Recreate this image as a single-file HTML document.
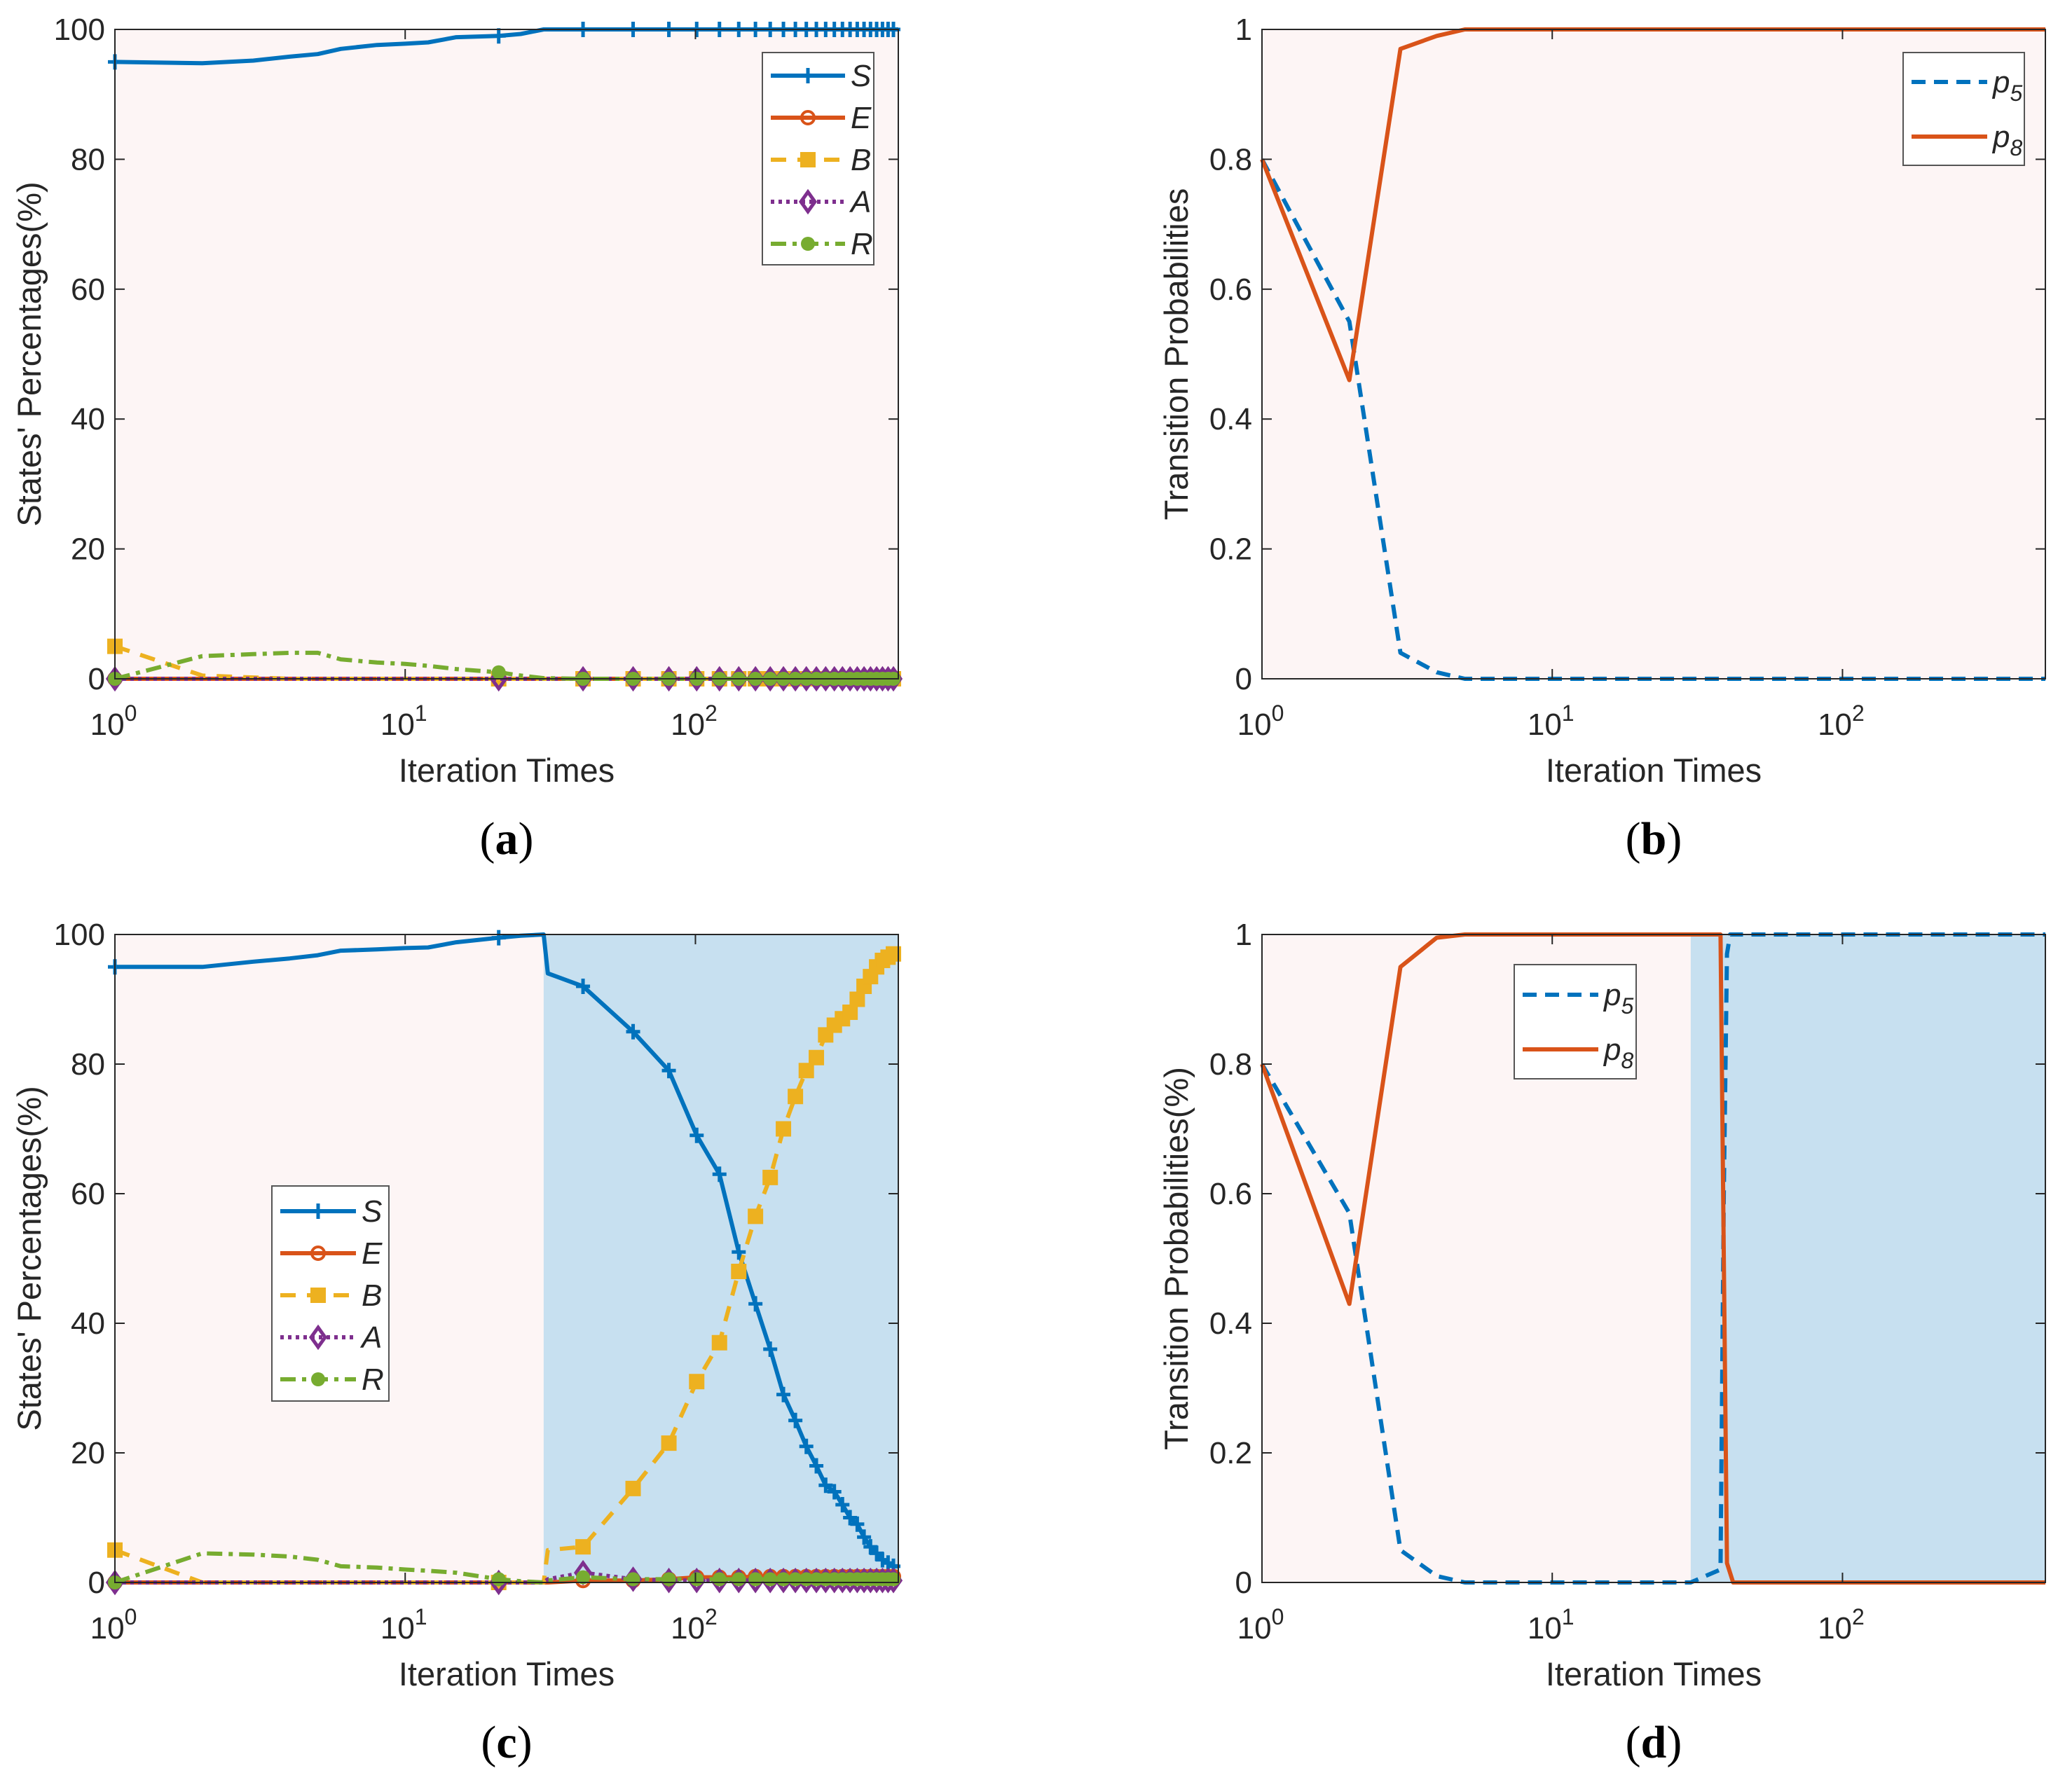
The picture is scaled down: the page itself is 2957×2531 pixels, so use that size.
<!DOCTYPE html>
<html><head><meta charset="utf-8"><style>
html,body{margin:0;padding:0;background:#fff;}
svg{display:block;}
</style></head><body>
<svg id="fig" width="2957" height="2531" viewBox="0 0 2957 2531" xmlns="http://www.w3.org/2000/svg" font-family="'Liberation Sans Narrow','Liberation Sans',sans-serif"></svg>
<script>
// ---- data ----
const xsA = [1,2,3,4,5,6,8,10,12,15,21,25,30,41,61,81,101,121,141,161,181,201,221,241,261,281,301,321,341,361,381,401,421,441,461,481,500];
const sA = [95,94.8,95.2,95.8,96.2,97,97.6,97.8,98,98.8,99,99.3,100,100,100,100,100,100,100,100,100,100,100,100,100,100,100,100,100,100,100,100,100,100,100,100,100];
const eA = [0,0,0,0,0,0,0,0,0,0,0,0,0,0,0,0,0,0,0,0,0,0,0,0,0,0,0,0,0,0,0,0,0,0,0,0,0];
const bA = [5,0.5,0.2,0,0,0,0,0,0,0,0,0,0,0,0,0,0,0,0,0,0,0,0,0,0,0,0,0,0,0,0,0,0,0,0,0,0];
const aA = [0,0,0,0,0,0,0,0,0,0,0,0,0,0,0,0,0,0,0,0,0,0,0,0,0,0,0,0,0,0,0,0,0,0,0,0,0];
const rA = [0,3.5,3.8,4,4,3,2.5,2.3,2,1.5,1,0.5,0.1,0,0,0,0,0,0,0,0,0,0,0,0,0,0,0,0,0,0,0,0,0,0,0,0];

const xsC = [1,2,3,4,5,6,8,10,12,15,21,25,30,31,41,61,81,101,121,141,161,181,201,221,241,261,281,301,321,341,361,381,401,421,441,461,481,500];
const sC = [95,95,95.8,96.3,96.8,97.5,97.7,97.9,98,98.8,99.5,99.8,100,94,92,85,79,69,63,51,43,36,29,25,21,18,15,14,12,10,9,7,5.5,4.5,3.5,3,2.5,2.5];
const eC = [0,0,0,0,0,0,0,0,0,0,0,0,0,0,0.3,0.3,0.5,0.8,0.8,0.8,0.9,0.9,0.9,0.9,0.9,0.9,0.9,0.9,0.9,0.9,0.9,0.9,0.9,0.9,0.9,0.9,0.9,0.9];
const bC = [5,0,0,0,0,0,0,0,0,0,0,0,0,5,5.5,14.5,21.5,31,37,48,56.5,62.5,70,75,79,81,84.5,86,87,88,90,92,93.5,95,96,96.5,97,97];
const aC = [0,0,0,0,0,0,0,0,0,0,0,0,0,0.5,1.5,0.5,0.3,0.3,0.3,0.3,0.3,0.3,0.3,0.3,0.3,0.3,0.3,0.3,0.3,0.3,0.3,0.3,0.3,0.3,0.3,0.3,0.3,0.3];
const rC = [0,4.5,4.3,4,3.5,2.5,2.3,2,1.8,1.5,0.5,0.2,0,0.3,0.8,0.5,0.5,0.5,0.5,0.5,0.5,0.5,0.5,0.5,0.5,0.5,0.5,0.5,0.5,0.5,0.5,0.5,0.5,0.5,0.5,0.5,0.5,0.5];

const xsB = [1,2,3,4,5,10,100,500];
const p5B = [0.8,0.55,0.04,0.01,0,0,0,0];
const p8B = [0.8,0.46,0.97,0.99,1,1,1,1];

const xsD5 = [1,2,3,4,5,10,30,38,39,40,41,50,100,500];
const p5D = [0.8,0.57,0.05,0.01,0,0,0,0.02,0.6,0.97,1,1,1,1];
const xsD8 = [1,2,3,4,5,10,30,37,38,39,40,42,50,100,500];
const p8D = [0.8,0.43,0.95,0.995,1,1,1,1,1,0.5,0.03,0,0,0,0];

const yTicksPct = [0,20,40,60,80,100];
const yTicksProb = [0,0.2,0.4,0.6,0.8,1];
const xDecades = [0,1,2];
const XMAX = 500;
const shadeStart = 30;

const NS = "http://www.w3.org/2000/svg";
const svg = document.getElementById('fig');
function mk(tag, attrs, parent){ const e=document.createElementNS(NS,tag); for(const k in attrs) e.setAttribute(k,attrs[k]); (parent||svg).appendChild(e); return e; }

function panel(o){
  const g = mk('g',{});
  
  
  const L=o.L,R=o.R,T=o.T,B=o.B;
  const sx = v => L + (R-L)*Math.log10(v)/Math.log10(XMAX);
  const sy = v => B - (B-T)*(v-o.ymin)/(o.ymax-o.ymin);
  const bg = mk('rect',{x:L,y:T,width:R-L,height:B-T,fill:'#fdf5f5'},g);
  
  
  if(o.shade){
    const sh = mk('rect',{x:sx(shadeStart),y:T,width:R-sx(shadeStart),height:B-T,fill:'#c7e0f0'},g);
    
    
  }
  o.series.forEach(s=>{
    const pts = s.xs.map((x,i)=>sx(x).toFixed(1)+','+sy(s.ys[i]).toFixed(1)).join(' ');
    const pl = mk('polyline',{points:pts,fill:'none',stroke:s.color,'stroke-width':6,'stroke-dasharray':s.dash||'','stroke-linejoin':'round'},g);
    
    
    if(s.marker){
      s.xs.forEach((x,i)=>{ if((x-1)%20===0) marker(g,s.marker,sx(x),sy(s.ys[i]),s.color,'marker-'+s.label.toLowerCase()); });
    }
  });
  const box = mk('rect',{x:L,y:T,width:R-L,height:B-T,fill:'none',stroke:'#262626','stroke-width':2},g);
  
  
  o.yTicks.forEach(v=>{
    const y=sy(v);
    mk('line',{x1:L,x2:L+14,y1:y,y2:y,stroke:'#262626','stroke-width':2},g);
    mk('line',{x1:R,x2:R-14,y1:y,y2:y,stroke:'#262626','stroke-width':2},g);
    const t = mk('text',{x:L-14,y:y+15,'text-anchor':'end','font-size':44,fill:'#262626'},g);
    t.textContent = String(v);
    
    
  });
  xDecades.forEach(d=>{
    const x=sx(Math.pow(10,d));
    mk('line',{x1:x,x2:x,y1:B,y2:B-14,stroke:'#262626','stroke-width':2},g);
    mk('line',{x1:x,x2:x,y1:T,y2:T+14,stroke:'#262626','stroke-width':2},g);
    const t = mk('text',{x:x-2,y:B+80,'text-anchor':'middle','font-size':44,fill:'#262626'},g);
    t.textContent='10';
    
    
    const sup = mk('tspan',{dy:-20,'font-size':32},t);
    sup.textContent=String(d);
  });
  const xt = mk('text',{x:(L+R)/2,y:B+147,'text-anchor':'middle','font-size':47,fill:'#262626'},g);
  xt.textContent='Iteration Times';
  
  
  const yx = L-106, yc=(T+B)/2;
  const yt = mk('text',{x:yx,y:yc,'text-anchor':'middle','font-size':47,fill:'#262626',transform:`rotate(-90 ${yx} ${yc})`,'font-family':"'Liberation Sans',sans-serif"},g);
  yt.textContent=o.ylabel;
  
  
  const cap = mk('text',{x:(L+R)/2,y:B+250,'text-anchor':'middle','font-size':66,fill:'#000','font-family':"'Liberation Serif',serif"},g);
  cap.innerHTML='(<tspan font-weight="bold">'+o.caption+'</tspan>)';
  
  
  const lg = mk('g',{},g);
  
  
  const lb = o.legend;
  mk('rect',{x:lb.x,y:lb.y,width:lb.w,height:lb.h,fill:'#fff',stroke:'#555','stroke-width':2},lg);
  o.series.forEach((s,i)=>{
    const y = lb.y + lb.first + i*lb.step;
    const ent = mk('g',{},lg);
    
    
    mk('line',{x1:lb.x+12,x2:lb.x+lb.lineW,y1:y,y2:y,stroke:s.color,'stroke-width':6,'stroke-dasharray':s.dash||''},ent);
    if(s.marker) marker(ent,s.marker,lb.x+12+(lb.lineW-12)/2,y,s.color,'legend-marker');
    const t = mk('text',{x:lb.x+lb.lineW+8,y:y+15,'font-size':44,'font-style':'italic',fill:'#262626','font-family':"'Liberation Sans',sans-serif"},ent);
    if(s.sub){ t.textContent='p'; const ts=mk('tspan',{dy:12,'font-size':32},t); ts.textContent=s.sub; }
    else t.textContent=s.label;
  });
}
function marker(parent,type,x,y,c,name){
  let e;
  if(type==='plus'){ e=mk('path',{d:`M${x-10},${y}H${x+10}M${x},${y-11}V${y+11}`,stroke:c,'stroke-width':5,fill:'none'},parent); }
  else if(type==='circle'){ e=mk('circle',{cx:x,cy:y,r:9,fill:'none',stroke:c,'stroke-width':4},parent); }
  else if(type==='square'){ e=mk('rect',{x:x-10,y:y-10,width:20,height:20,fill:c,stroke:c,'stroke-width':2},parent); }
  else if(type==='diamond'){ e=mk('path',{d:`M${x},${y-14}L${x+10},${y}L${x},${y+14}L${x-10},${y}Z`,fill:'none',stroke:c,'stroke-width':5},parent); }
  else if(type==='dot'){ e=mk('circle',{cx:x,cy:y,r:10,fill:c},parent); }
  
  
}
const C={b:'#0072BD',o:'#D95319',y:'#EDB120',p:'#7E2F8E',g:'#77AC30'};
function sirSeries(xs,s,e,b,a,r){
  return [
    {label:'S',xs:xs,ys:s,color:C.b,marker:'plus'},
    {label:'E',xs:xs,ys:e,color:C.o,marker:'circle'},
    {label:'B',xs:xs,ys:b,color:C.y,marker:'square',dash:'22 16'},
    {label:'A',xs:xs,ys:a,color:C.p,marker:'diamond',dash:'5 6'},
    {label:'R',xs:xs,ys:r,color:C.g,marker:'dot',dash:'22 9 6 9'}
  ];
}
panel({name:'panel-a',L:164,R:1282,T:42,B:969,ymin:0,ymax:100,yTicks:yTicksPct,ylabel:"States' Percentages(%)",caption:'a',
  series:sirSeries(xsA,sA,eA,bA,aA,rA),legend:{x:1088,y:75,w:159,h:303,first:33,step:60,lineW:118}});
panel({name:'panel-b',L:1801,R:2919,T:42,B:969,ymin:0,ymax:1,yTicks:yTicksProb,ylabel:'Transition Probabilities',caption:'b',
  series:[{label:'p5',sub:'5',xs:xsB,ys:p5B,color:C.b,dash:'20 12'},{label:'p8',sub:'8',xs:xsB,ys:p8B,color:C.o}],
  legend:{x:2716,y:75,w:173,h:161,first:42,step:78,lineW:120}});
panel({name:'panel-c',L:164,R:1282,T:1334,B:2259,ymin:0,ymax:100,yTicks:yTicksPct,ylabel:"States' Percentages(%)",caption:'c',shade:true,
  series:sirSeries(xsC,sC,eC,bC,aC,rC),legend:{x:388,y:1693,w:167,h:307,first:36,step:60,lineW:120}});
panel({name:'panel-d',L:1801,R:2919,T:1334,B:2259,ymin:0,ymax:1,yTicks:yTicksProb,ylabel:'Transition Probabilities(%)',caption:'d',shade:true,
  series:[{label:'p5',sub:'5',xs:xsD5,ys:p5D,color:C.b,dash:'20 12'},{label:'p8',sub:'8',xs:xsD8,ys:p8D,color:C.o}],
  legend:{x:2161,y:1377,w:174,h:163,first:43,step:78,lineW:120}});
</script>
</body></html>
